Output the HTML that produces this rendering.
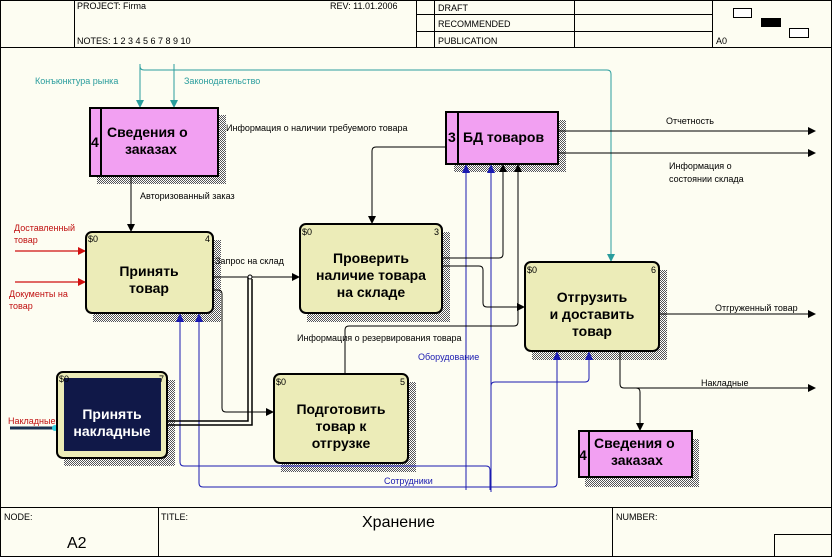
<!DOCTYPE html>
<html><head><meta charset="utf-8"><style>
body{margin:0;background:#fdfdf2}
svg{display:block;font-family:"Liberation Sans",sans-serif}
.s{font-size:9px;fill:#000}
.b{font-size:14px;font-weight:bold;fill:#000}
.h{font-size:9px;fill:#000}
</style></head><body>
<svg width="832" height="557" viewBox="0 0 832 557">
<defs>
<pattern id="hp" width="2" height="2" patternUnits="userSpaceOnUse"><rect width="2" height="2" fill="#fff"/><rect width="1" height="1" fill="#555"/><rect x="1" y="1" width="1" height="1" fill="#555"/></pattern>
<marker id="ak" markerWidth="8" markerHeight="8" refX="7" refY="4" orient="auto" markerUnits="userSpaceOnUse"><path d="M0,0L8,4L0,8z" fill="#000"/></marker>
<marker id="ar" markerWidth="8" markerHeight="8" refX="7" refY="4" orient="auto" markerUnits="userSpaceOnUse"><path d="M0,0L8,4L0,8z" fill="#d01010"/></marker>
<marker id="at" markerWidth="8" markerHeight="8" refX="7" refY="4" orient="auto" markerUnits="userSpaceOnUse"><path d="M0,0L8,4L0,8z" fill="#2a9d9d"/></marker>
</defs>
<rect width="832" height="557" fill="#fdfdf2"/>
<g stroke="#000" stroke-width="1" fill="none">
<rect x="0.5" y="0.5" width="831" height="556"/>
<line x1="0" y1="47.5" x2="832" y2="47.5"/>
<line x1="74.5" y1="0" x2="74.5" y2="47"/>
<line x1="416.5" y1="0" x2="416.5" y2="47"/>
<line x1="434.5" y1="0" x2="434.5" y2="47"/>
<line x1="574.5" y1="0" x2="574.5" y2="47"/>
<line x1="712.5" y1="0" x2="712.5" y2="47"/>
<line x1="416" y1="14.5" x2="712" y2="14.5"/>
<line x1="416" y1="31.5" x2="712" y2="31.5"/>
<rect x="733.5" y="8.5" width="18" height="9" fill="#fff"/>
<rect x="789.5" y="28.5" width="19" height="9" fill="#fff"/>
<line x1="0" y1="507.5" x2="832" y2="507.5"/>
<line x1="158.5" y1="507" x2="158.5" y2="557"/>
<line x1="612.5" y1="507" x2="612.5" y2="557"/>
<rect x="774.5" y="534.5" width="58" height="23"/>
</g>
<rect x="761" y="18" width="20" height="9" fill="#000"/>
<text class="h" x="77" y="9">PROJECT:  Firma</text>
<text class="h" x="330" y="9">REV:  11.01.2006</text>
<text class="h" x="77" y="44">NOTES:  1  2  3  4  5  6  7  8  9  10</text>
<text class="h" x="438" y="11">DRAFT</text>
<text class="h" x="438" y="27">RECOMMENDED</text>
<text class="h" x="438" y="44">PUBLICATION</text>
<text class="h" x="716" y="44">A0</text>
<text class="h" x="4" y="520">NODE:</text>
<text x="67" y="548" style="font-size:16px">A2</text>
<text class="h" x="161" y="520">TITLE:</text>
<text x="362" y="527" style="font-size:16px">Хранение</text>
<text class="h" x="616" y="520">NUMBER:</text>

<g fill="url(#hp)">
<rect x="97" y="115" width="129" height="69"/>
<rect x="454" y="120" width="112" height="52"/>
<rect x="93" y="240" width="128" height="82"/>
<rect x="307" y="232" width="143" height="90"/>
<rect x="532" y="270" width="135" height="90"/>
<rect x="64" y="380" width="111" height="86"/>
<rect x="281" y="382" width="135" height="90"/>
<rect x="585" y="439" width="114" height="48"/>
</g>

<g stroke="#2a9d9d" fill="none" stroke-width="1">
<path d="M140,64V107" marker-end="url(#at)"/>
<path d="M174,64V107" marker-end="url(#at)"/>
<path d="M140,66Q140,70 144,70H607Q611,70 611,74V261" marker-end="url(#at)"/>
</g>
<text x="35" y="84" style="font-size:9px;fill:#2a9d9d">Конъюнктура рынка</text>
<text x="184" y="84" style="font-size:9px;fill:#2a9d9d">Законодательство</text>

<g stroke="#d01010" stroke-width="1.3">
<line x1="15" y1="251" x2="85" y2="251" marker-end="url(#ar)"/>
<line x1="15" y1="282" x2="85" y2="282" marker-end="url(#ar)"/>
</g>
<g style="font-size:9px;fill:#c01010">
<text x="14" y="231">Доставленный</text><text x="14" y="243">товар</text>
<text x="9" y="297">Документы на</text><text x="9" y="309">товар</text>
<text x="8" y="424">Накладные</text>
</g>
<line x1="10" y1="428" x2="56" y2="428" stroke="#1a3050" stroke-width="3"/>
<circle cx="55" cy="428" r="3" fill="#30d0e0"/>

<g stroke="#1a1ab0" fill="none" stroke-width="1">
<path d="M180,314V462Q180,466 184,466H486Q490,466 490,470V490"/>
<path d="M199,314V483Q199,487 203,487H553Q557,487 557,483V352"/>
<path d="M466,165V490"/>
<path d="M491,165V492"/>
<path d="M491,386Q491,382 495,382H585Q589,382 589,378V352"/>
</g>
<g fill="#1a1ab0">
<path d="M176,322L180,313L184,322z"/><path d="M195,322L199,313L203,322z"/>
<path d="M462,173L466,164L470,173z"/><path d="M487,173L491,164L495,173z"/>
<path d="M553,360L557,351L561,360z"/><path d="M585,360L589,351L593,360z"/>
</g>
<text x="418" y="360" style="font-size:9px;fill:#1a1ab0">Оборудование</text>
<text x="384" y="484" style="font-size:9px;fill:#1a1ab0">Сотрудники</text>

<g stroke="#000" fill="none" stroke-width="1">
<path d="M131,177V231" marker-end="url(#ak)"/>
<path d="M446,147H376Q372,147 372,151V223" marker-end="url(#ak)"/>
<path d="M558,131H815" marker-end="url(#ak)"/>
<path d="M558,153H815" marker-end="url(#ak)"/>
<path d="M213,277H299" marker-end="url(#ak)"/>
<path d="M213,290H218Q222,290 222,294V408Q222,412 226,412H273" marker-end="url(#ak)"/>
<path d="M442,258H499Q503,258 503,254V165" marker-end="url(#ak)"/>
<path d="M442,266H479Q483,266 483,270V303Q483,307 487,307H524" marker-end="url(#ak)"/>
<path d="M345,374V330Q345,326 349,326H514Q518,326 518,322V165" marker-end="url(#ak)"/>
<path d="M659,314H815" marker-end="url(#ak)"/>
<path d="M620,351V384Q620,388 624,388H815" marker-end="url(#ak)"/>
<path d="M636,388Q640,388 640,392V430" marker-end="url(#ak)"/>
<path d="M167,421H248V277M167,425H252V279" stroke-width="1.5"/>
</g>
<circle cx="250" cy="277" r="2" fill="#fff" stroke="#000"/>
<text class="s" x="226" y="131">Информация о наличии требуемого товара</text>
<text class="s" x="140" y="199">Авторизованный заказ</text>
<text class="s" x="215" y="264">Запрос на склад</text>
<text class="s" x="666" y="124">Отчетность</text>
<text class="s" x="669" y="169">Информация о</text>
<text class="s" x="669" y="182">состоянии склада</text>
<text class="s" x="715" y="311">Отгруженный товар</text>
<text class="s" x="701" y="386">Накладные</text>
<text class="s" x="297" y="341">Информация о резервирования товара</text>

<g stroke="#000" stroke-width="2">
<rect x="90" y="108" width="128" height="68" fill="#f2a0f2"/>
<line x1="101" y1="108" x2="101" y2="176"/>
<rect x="446" y="112" width="112" height="52" fill="#f2a0f2"/>
<line x1="458" y1="112" x2="458" y2="164"/>
<rect x="579" y="431" width="113" height="46" fill="#f2a0f2"/>
<line x1="589" y1="431" x2="589" y2="477"/>
</g>
<text class="b" x="91" y="147">4</text>
<text class="b" x="107" y="137">Сведения о</text><text class="b" x="125" y="154">заказах</text>
<text class="b" x="448" y="142">3</text>
<text class="b" x="463" y="142">БД товаров</text>
<text class="b" x="579" y="460">4</text>
<text class="b" x="594" y="448">Сведения о</text><text class="b" x="611" y="465">заказах</text>

<g stroke="#000" stroke-width="2" fill="#ececb8">
<rect x="86" y="232" width="127" height="81" rx="6"/>
<rect x="300" y="224" width="142" height="89" rx="6"/>
<rect x="525" y="262" width="134" height="89" rx="6"/>
<rect x="274" y="374" width="134" height="89" rx="6"/>
<rect x="57" y="372" width="110" height="86" rx="6"/>
</g>
<rect x="64" y="378" width="97" height="73" fill="#101848"/>
<g style="font-size:9px">
<text x="88" y="242">$0</text><text x="205" y="242">4</text>
<text x="302" y="235">$0</text><text x="434" y="235">3</text>
<text x="527" y="273">$0</text><text x="651" y="273">6</text>
<text x="276" y="385">$0</text><text x="400" y="385">5</text>
<text x="59" y="382">$0</text><text x="159" y="382">7</text>
</g>
<g class="b" text-anchor="middle">
<text x="149" y="276">Принять</text><text x="149" y="293">товар</text>
<text x="371" y="263">Проверить</text><text x="371" y="280">наличие товара</text><text x="371" y="297">на складе</text>
<text x="592" y="302">Отгрузить</text><text x="592" y="319">и доставить</text><text x="592" y="336">товар</text>
<text x="341" y="414">Подготовить</text><text x="341" y="431">товар к</text><text x="341" y="448">отгрузке</text>
<text x="112" y="419" style="fill:#fff">Принять</text><text x="112" y="436" style="fill:#fff">накладные</text>
</g>
</svg>
</body></html>
